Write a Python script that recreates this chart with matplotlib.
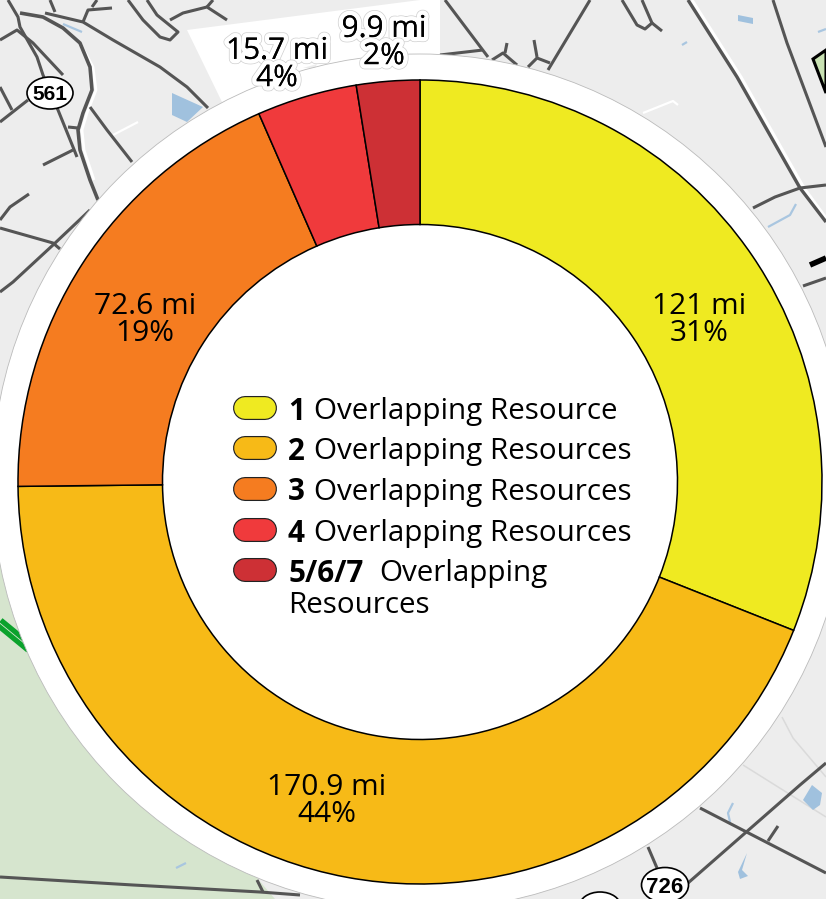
import matplotlib
matplotlib.use("Agg")
import matplotlib.pyplot as plt
import matplotlib.patheffects as pe
from matplotlib.patches import Circle, Polygon, Ellipse

# chart data
categories = ["1", "2", "3", "4", "5/6/7"]
miles = [121, 170.9, 72.6, 15.7, 9.9]
mile_labels = ["121 mi", "170.9 mi", "72.6 mi", "15.7 mi", "9.9 mi"]
percents = ["31%", "44%", "19%", "4%", "2%"]
colors = ["#EFEA21", "#F7BA17", "#F57C20", "#F03A3C", "#CD3035"]
legend_rest = ["Overlapping Resource", "Overlapping Resources", "Overlapping Resources",
               "Overlapping Resources", "Overlapping"]

W, H = 826, 899
plt.rcParams['font.family'] = ['Open Sans', 'DejaVu Sans']

fig = plt.figure(figsize=(W / 100, H / 100), dpi=100)
ax = fig.add_axes([0, 0, 1, 1])


def flip(pts):
    # picture pixels have y going down
    return [(x, H - y) for x, y in pts]


def road(pts, color="#555555", lw=2.2, z=2):
    xs, ys = zip(*flip(pts))
    ax.plot(xs, ys, color=color, lw=lw, solid_capstyle="butt", solid_joinstyle="round", zorder=z)


def shield(x, y, w, h, txt, size):
    ax.add_patch(Ellipse((x, H - y), w, h, fc="white", ec="black", lw=1.2, zorder=3))
    ax.text(x, H - y, txt, ha="center", va="center_baseline", fontsize=size, fontweight="bold",
            family="Liberation Sans", zorder=4)


# map behind the chart
ax.add_patch(Polygon([(0, 0), (W, 0), (W, H), (0, H)], fc="#EDEDED", ec="none", zorder=0))
ax.add_patch(Polygon(flip([(0, 563), (100, 640), (257, 878), (275, 899), (0, 899)]), fc="#D6E5CE", ec="none", zorder=1))
ax.add_patch(Polygon(flip([(187, 30), (420, 0), (440, 0), (440, 70), (222, 102)]), fc="white", ec="none", zorder=1.5))
ax.add_patch(Polygon(flip([(303, 68), (317, 64), (315, 68)]), fc="#EDEDED", ec="none", zorder=1.6))
ax.add_patch(Polygon(flip([(826, 50), (813, 59), (826, 93)]), fc="#C9E2B3", ec="black", lw=2.2, zorder=2))

# white minor roads
road([(80, 43), (93, 67), (96, 90), (87, 113), (82, 130), (84, 150), (94, 180)], color="white", lw=2, z=1.8)
road([(692, 0), (741, 77), (804, 188), (826, 218)], color="white", lw=2.2, z=1.8)
road([(113, 135), (138, 122)], color="white", lw=1.6, z=1.8)
road([(643, 113), (673, 101), (678, 105)], color="white", lw=1.6, z=1.8)

# light roads
road([(743, 765), (826, 817)], color="#DADADA", lw=1.1, z=1.2)
road([(782, 717), (793, 738), (826, 777)], color="#DADADA", lw=1.1, z=1.2)

# roads, top left
road([(20, 13), (43, 17), (63, 28), (80, 43), (90, 67), (92, 90), (83, 113), (78, 130), (80, 150), (90, 180), (98, 200)], lw=2.6)
road([(45, 13), (83, 22), (113, 40), (160, 67), (187, 87), (208, 108)])
road([(8, 0), (18, 17), (20, 27), (37, 57), (43, 75), (58, 110), (73, 147), (77, 157)])
road([(0, 40), (17, 30), (33, 43), (63, 75)])
road([(0, 122), (28, 100)])
road([(0, 87), (12, 110)])
road([(90, 107), (107, 130), (132, 162)])
road([(43, 165), (73, 150)])
road([(68, 127), (78, 128)])
road([(0, 220), (10, 207), (29, 194)])
road([(0, 228), (53, 243), (60, 249)])
road([(0, 292), (13, 282), (53, 245), (90, 210)])
road([(83, 22), (88, 10), (112, 8)])
road([(92, 7), (97, 0)])
road([(50, 0), (55, 12)])
road([(128, 0), (143, 20), (160, 37), (170, 40), (178, 32), (157, 15), (147, 0)])
road([(170, 20), (183, 13), (207, 7), (227, 20)])
road([(207, 7), (213, 0)])

# roads, top right
road([(445, 0), (488, 57)])
road([(440, 55), (483, 50)])
road([(590, 0), (548, 70)])
road([(492, 60), (503, 53), (517, 65)])
road([(507, 43), (505, 53)])
road([(528, 67), (537, 58), (550, 63)])
road([(534, 40), (537, 57)])
road([(622, 0), (637, 25), (645, 29), (652, 23), (642, 0)])
road([(652, 23), (662, 31)])
road([(688, 0), (737, 77), (800, 188), (826, 222)], lw=2.4)
road([(773, 0), (787, 43), (826, 147)])
road([(753, 208), (775, 197), (800, 188), (826, 185)])
road([(810, 265), (826, 258)], color="black", lw=4)
road([(803, 286), (826, 278)])

# roads, bottom
road([(700, 808), (826, 873)])
road([(688, 883), (800, 785), (826, 763)])
road([(768, 841), (778, 826)])
road([(648, 847), (657, 868)])
road([(0, 877), (133, 885), (260, 892), (300, 895)])
road([(257, 880), (263, 892)])
road([(-4, 620), (30, 648)], color="#0BA22C", lw=8)
road([(-4, 620), (30, 648)], color="#D6E5CE", lw=0.6)

# water
for pts in [[(172, 93), (203, 107), (187, 122), (172, 115)], [(738, 15), (753, 18), (753, 24), (738, 21)],
            [(803, 800), (812, 785), (822, 793), (820, 805), (813, 810)],
            [(747, 853), (742, 870), (748, 876), (740, 879), (738, 872)]]:
    ax.add_patch(Polygon(flip(pts), fc="#A0C1DE", ec="none", zorder=1.7))
for pts in [[(63, 24), (82, 32)], [(768, 227), (790, 215), (796, 204)], [(733, 803), (728, 813), (730, 822)],
            [(682, 45), (687, 42)], [(818, 32), (826, 29)], [(176, 868), (186, 863)]]:
    road(pts, color="#A9C6E0", lw=1.6, z=1.7)

shield(50, 93, 46, 32, "561", 15)
shield(665, 885, 47, 35, "726", 16)
shield(600, 907, 42, 30, "", 10)

# white disc the chart sits on
ax.add_patch(Circle((420, H - 482), 428, fc="white", ec="#BBBBBB", lw=0.6, zorder=5))

# donut
wedges, _ = ax.pie(miles, colors=colors, center=(420, H - 482), radius=402, startangle=90, counterclock=False,
                   frame=True, wedgeprops=dict(width=144.5, edgecolor="black", linewidth=1.1))
for w in wedges:
    w.set_zorder(6)

ax.set_xlim(0, W)
ax.set_ylim(0, H)
ax.set_aspect("auto")
ax.axis("off")

# slice labels
label_pos = [(699, 320), (327, 801), (145, 320), (277, 65), (384, 43)]
for i in range(len(miles)):
    x, y = label_pos[i]
    t = ax.text(x, H - y, mile_labels[i] + "\n" + percents[i], ha="center", va="center", fontsize=21.5,
                linespacing=0.92, color="black", zorder=8)
    if i >= 3:
        t.set_path_effects([pe.withStroke(linewidth=7.5, foreground="#CFCFCF"),
                            pe.withStroke(linewidth=6.5, foreground="white"), pe.Normal()])

# legend in the hole
legend_y = [408, 448, 489, 530, 570]
for i in range(5):
    y = H - legend_y[i]
    ax.plot([245, 265], [y, y], color="#222222", lw=17.3, solid_capstyle="round", zorder=7)
    ax.plot([245, 265], [y, y], color=colors[i], lw=15.6, solid_capstyle="round", zorder=7.1)
    ax.text(288, y, categories[i], fontsize=21.3, fontweight="bold", va="center_baseline", zorder=8)
    rest_x = 379 if i == 4 else 314
    ax.text(rest_x, y, legend_rest[i], fontsize=21.3, va="center_baseline", zorder=8)
ax.text(288, H - 602, "Resources", fontsize=21.3, va="center_baseline", zorder=8)

fig.savefig("out.png", dpi=100)
